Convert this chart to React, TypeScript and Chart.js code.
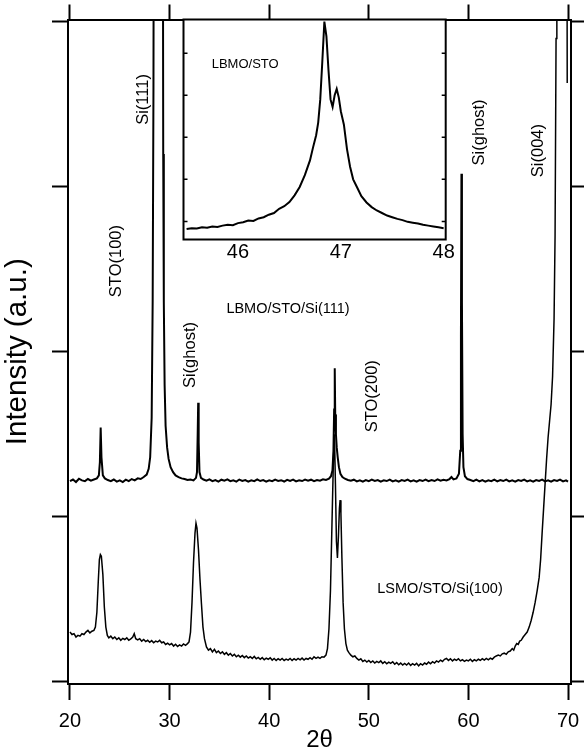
import React, { useEffect, useRef } from 'react';
import { Chart, registerables } from 'chart.js';

Chart.register(...registerables);

const FONT = '"Liberation Sans", Arial, Helvetica, sans-serif';

// ---- main axes ----
const X_MIN = 19.8;
const X_MAX = 70.3;
const X_TICKS = [20, 30, 40, 50, 60, 70];
const Y_MIN = -0.015;
const Y_MAX = 4.015;
const Y_TICKS = [0, 1, 2, 3, 4];

// ---- inset axes ----
const INSET_X_MIN = 45.47;
const INSET_X_MAX = 48.02;
const INSET_X_TICKS = [46, 47, 48];
const INSET_Y_MIN = 0.57;
const INSET_Y_MAX = 5.8;
const INSET_Y_TICKS = [1, 2, 3, 4, 5];

// LBMO/STO/Si(111)  [2theta, intensity]
const LBMO_SI111: [number, number][] = [
  [20.0,1.215],[20.3,1.225],[20.6,1.21],[20.9,1.23],[21.2,1.22],[21.5,1.215],[21.8,1.228],[22.1,1.218],[22.4,1.225],[22.7,1.232],[22.9,1.25],[23.0,1.33],[23.08,1.54],[23.16,1.36],[23.3,1.25],[23.5,1.232],[23.8,1.222],[24.1,1.215],[24.4,1.225],[24.7,1.212],[25.0,1.22],[25.3,1.21],[25.6,1.224],[25.9,1.215],[26.2,1.228],[26.5,1.22],[26.8,1.232],[27.1,1.228],[27.4,1.24],[27.7,1.255],[27.9,1.29],[28.05,1.36],[28.2,1.6],[28.3,2.3],[28.38,3.6],[28.44,6],[29.3,6],[29.36,3.2],[29.42,2.3],[29.5,1.8],[29.6,1.55],[29.75,1.42],[29.9,1.35],[30.1,1.3],[30.35,1.27],[30.6,1.25],[30.9,1.24],[31.2,1.232],[31.5,1.228],[31.8,1.222],[32.1,1.225],[32.4,1.22],[32.65,1.235],[32.75,1.27],[32.82,1.5],[32.87,1.69],[32.92,1.45],[33.0,1.27],[33.15,1.235],[33.4,1.225],[33.7,1.218],[34.0,1.226],[34.3,1.215],[34.6,1.222],[34.9,1.212],[35.2,1.224],[35.5,1.218],[35.8,1.226],[36.1,1.215],[36.4,1.22],[36.7,1.212],[37.0,1.225],[37.3,1.217],[37.6,1.222],[37.9,1.212],[38.2,1.22],[38.5,1.215],[38.8,1.226],[39.1,1.216],[39.4,1.222],[39.7,1.212],[40.0,1.22],[40.3,1.215],[40.6,1.225],[40.9,1.217],[41.2,1.221],[41.5,1.213],[41.8,1.223],[42.1,1.216],[42.4,1.224],[42.7,1.214],[43.0,1.22],[43.3,1.216],[43.6,1.225],[43.9,1.218],[44.2,1.224],[44.5,1.215],[44.8,1.222],[45.1,1.218],[45.4,1.226],[45.7,1.222],[46.0,1.23],[46.2,1.245],[46.35,1.28],[46.45,1.4],[46.52,1.65],[46.58,1.9],[46.63,1.62],[46.7,1.5],[46.78,1.42],[46.88,1.36],[47.0,1.3],[47.15,1.26],[47.35,1.24],[47.6,1.23],[47.9,1.222],[48.2,1.218],[48.5,1.224],[48.8,1.214],[49.1,1.22],[49.4,1.212],[49.7,1.222],[50.0,1.215],[50.3,1.224],[50.6,1.216],[50.9,1.222],[51.2,1.212],[51.5,1.22],[51.8,1.216],[52.1,1.225],[52.4,1.214],[52.7,1.22],[53.0,1.212],[53.3,1.222],[53.6,1.216],[53.9,1.224],[54.2,1.214],[54.5,1.22],[54.8,1.212],[55.1,1.222],[55.4,1.216],[55.7,1.225],[56.0,1.215],[56.3,1.222],[56.6,1.216],[56.9,1.226],[57.2,1.218],[57.5,1.224],[57.8,1.22],[58.1,1.228],[58.3,1.24],[58.5,1.226],[58.8,1.232],[59.05,1.26],[59.18,1.4],[59.25,2.1],[59.3,3.08],[59.35,2.3],[59.42,1.5],[59.5,1.3],[59.65,1.245],[59.9,1.228],[60.2,1.222],[60.5,1.215],[60.8,1.224],[61.1,1.214],[61.4,1.222],[61.7,1.212],[62.0,1.22],[62.3,1.215],[62.6,1.224],[62.9,1.214],[63.2,1.222],[63.5,1.216],[63.8,1.225],[64.1,1.214],[64.4,1.22],[64.7,1.212],[65.0,1.222],[65.3,1.216],[65.6,1.224],[65.9,1.214],[66.2,1.22],[66.5,1.212],[66.8,1.222],[67.1,1.216],[67.4,1.224],[67.7,1.214],[68.0,1.22],[68.3,1.212],[68.6,1.222],[68.9,1.216],[69.2,1.224],[69.5,1.214],[69.8,1.22],[70.0,1.212]
];

// LSMO/STO/Si(100)  [2theta, intensity]
const LSMO_SI100: [number, number][] = [
  [20.0,0.30],[20.2,0.285],[20.4,0.29],[20.6,0.27],[20.8,0.28],[21.0,0.275],[21.2,0.29],[21.4,0.285],[21.6,0.3],[21.8,0.31],[22.0,0.295],[22.2,0.305],[22.4,0.31],[22.55,0.33],[22.7,0.42],[22.85,0.62],[22.95,0.74],[23.05,0.77],[23.15,0.76],[23.3,0.65],[23.45,0.45],[23.6,0.33],[23.75,0.28],[23.9,0.265],[24.1,0.275],[24.3,0.26],[24.5,0.27],[24.7,0.255],[24.9,0.265],[25.1,0.25],[25.3,0.262],[25.5,0.255],[25.7,0.265],[25.9,0.25],[26.1,0.258],[26.3,0.27],[26.45,0.29],[26.6,0.26],[26.8,0.252],[27.0,0.26],[27.2,0.245],[27.4,0.255],[27.6,0.242],[27.8,0.25],[28.0,0.238],[28.2,0.248],[28.4,0.235],[28.6,0.245],[28.8,0.24],[29.0,0.25],[29.2,0.235],[29.4,0.24],[29.6,0.225],[29.8,0.232],[30.0,0.222],[30.2,0.23],[30.4,0.215],[30.6,0.226],[30.8,0.212],[31.0,0.222],[31.2,0.215],[31.4,0.228],[31.6,0.22],[31.8,0.23],[31.95,0.24],[32.1,0.3],[32.25,0.48],[32.4,0.72],[32.55,0.9],[32.65,0.96],[32.75,0.93],[32.9,0.8],[33.05,0.62],[33.2,0.47],[33.35,0.33],[33.5,0.26],[33.7,0.21],[33.9,0.19],[34.1,0.2],[34.3,0.18],[34.5,0.195],[34.7,0.175],[34.9,0.185],[35.1,0.17],[35.3,0.18],[35.5,0.165],[35.7,0.175],[35.9,0.16],[36.1,0.17],[36.3,0.155],[36.5,0.165],[36.7,0.15],[36.9,0.16],[37.1,0.148],[37.3,0.158],[37.5,0.145],[37.7,0.155],[37.9,0.142],[38.1,0.15],[38.3,0.14],[38.5,0.152],[38.7,0.138],[38.9,0.146],[39.1,0.135],[39.3,0.145],[39.5,0.132],[39.7,0.142],[39.9,0.135],[40.1,0.144],[40.3,0.13],[40.5,0.14],[40.7,0.128],[40.9,0.138],[41.1,0.13],[41.3,0.14],[41.5,0.128],[41.7,0.136],[41.9,0.13],[42.1,0.14],[42.3,0.128],[42.5,0.138],[42.7,0.13],[42.9,0.14],[43.1,0.132],[43.3,0.142],[43.5,0.13],[43.7,0.14],[43.9,0.135],[44.1,0.145],[44.3,0.135],[44.5,0.15],[44.7,0.14],[44.9,0.148],[45.1,0.14],[45.3,0.15],[45.5,0.148],[45.7,0.16],[45.85,0.2],[46.0,0.32],[46.15,0.55],[46.3,0.95],[46.45,1.35],[46.55,1.5],[46.65,1.2],[46.75,0.85],[46.85,0.75],[46.95,0.88],[47.05,1.05],[47.12,1.1],[47.2,1.02],[47.3,0.75],[47.42,0.48],[47.55,0.32],[47.7,0.23],[47.85,0.19],[48.0,0.175],[48.2,0.16],[48.4,0.15],[48.6,0.155],[48.8,0.14],[49.0,0.13],[49.2,0.138],[49.4,0.122],[49.6,0.13],[49.8,0.118],[50.0,0.128],[50.2,0.115],[50.4,0.125],[50.6,0.112],[50.8,0.122],[51.0,0.115],[51.2,0.125],[51.4,0.11],[51.6,0.12],[51.8,0.108],[52.0,0.118],[52.2,0.11],[52.4,0.12],[52.6,0.105],[52.8,0.115],[53.0,0.102],[53.2,0.112],[53.4,0.1],[53.6,0.11],[53.8,0.1],[54.0,0.112],[54.2,0.098],[54.4,0.108],[54.6,0.1],[54.8,0.11],[55.0,0.095],[55.2,0.108],[55.4,0.1],[55.6,0.112],[55.8,0.105],[56.0,0.118],[56.2,0.108],[56.4,0.12],[56.6,0.112],[56.8,0.125],[57.0,0.118],[57.2,0.13],[57.4,0.122],[57.6,0.135],[57.8,0.14],[58.0,0.128],[58.2,0.138],[58.4,0.125],[58.6,0.135],[58.8,0.128],[59.0,0.138],[59.2,0.125],[59.4,0.132],[59.6,0.122],[59.8,0.13],[60.0,0.125],[60.2,0.135],[60.4,0.122],[60.6,0.132],[60.8,0.125],[61.0,0.135],[61.2,0.128],[61.4,0.138],[61.6,0.13],[61.8,0.14],[62.0,0.132],[62.2,0.142],[62.4,0.135],[62.6,0.148],[62.8,0.155],[63.0,0.16],[63.2,0.155],[63.4,0.168],[63.6,0.172],[63.8,0.165],[64.0,0.18],[64.2,0.185],[64.4,0.2],[64.55,0.19],[64.7,0.215],[64.85,0.23],[65.0,0.225],[65.15,0.245],[65.3,0.25],[65.5,0.27],[65.7,0.285],[65.9,0.3],[66.1,0.33],[66.3,0.37],[66.5,0.42],[66.7,0.48],[66.9,0.55],[67.1,0.63],[67.25,0.74],[67.4,0.9],[67.55,1.05],[67.7,1.2],[67.85,1.35],[68.0,1.48],[68.15,1.58],[68.3,1.68],[68.45,1.85],[68.6,2.2],[68.7,2.7],[68.8,3.9],[68.88,6],[69.86,6],[69.92,3.63]
];

// Inset: LBMO/STO around STO(200)
const INSET_LBMO: [number, number][] = [
  [45.5,0.82],[45.55,0.84],[45.6,0.83],[45.65,0.86],[45.7,0.85],[45.75,0.88],[45.8,0.87],[45.85,0.9],[45.9,0.92],[45.95,0.91],[46.0,0.96],[46.05,0.98],[46.1,1.02],[46.15,1.01],[46.2,1.07],[46.25,1.1],[46.3,1.16],[46.35,1.2],[46.4,1.3],[46.45,1.36],[46.5,1.46],[46.55,1.62],[46.6,1.82],[46.65,2.1],[46.7,2.45],[46.73,2.76],[46.76,3.05],[46.78,3.35],[46.8,3.9],[46.82,4.8],[46.84,5.75],[46.86,5.4],[46.88,4.6],[46.9,3.9],[46.92,3.72],[46.94,4.0],[46.96,4.15],[46.98,3.95],[47.0,3.62],[47.03,3.3],[47.06,2.72],[47.09,2.3],[47.12,2.0],[47.16,1.8],[47.2,1.6],[47.25,1.45],[47.3,1.34],[47.35,1.26],[47.4,1.2],[47.45,1.14],[47.5,1.1],[47.55,1.06],[47.6,1.03],[47.65,0.99],[47.7,0.97],[47.75,0.95],[47.8,0.92],[47.85,0.9],[47.9,0.88],[47.95,0.86],[48.0,0.84]
];

// Text annotations (anchored in data units)
const LABELS: { text: string; x: number; y: number; rotate: boolean; size: number }[] = [
  { text: 'STO(100)', x: 24.62, y: 2.55, rotate: true, size: 16.5 },
  { text: 'Si(111)', x: 27.33, y: 3.53, rotate: true, size: 16.5 },
  { text: 'Si(ghost)', x: 32.05, y: 1.98, rotate: true, size: 16.5 },
  { text: 'LBMO/STO/Si(111)', x: 41.89, y: 2.26, rotate: false, size: 14.5 },
  { text: 'STO(200)', x: 50.32, y: 1.73, rotate: true, size: 16.5 },
  { text: 'Si(ghost)', x: 61.07, y: 3.33, rotate: true, size: 16.5 },
  { text: 'Si(004)', x: 66.99, y: 3.22, rotate: true, size: 16.5 },
  { text: 'LSMO/STO/Si(100)', x: 57.15, y: 0.56, rotate: false, size: 14.5 },
];
const INSET_LABEL = { text: 'LBMO/STO', x: 46.07, y: 4.73, size: 13 };

const toXY = (arr: [number, number][]) => arr.map(([x, y]) => ({ x, y }));
const setTicks = (vals: number[]) => (s: any) => {
  s.ticks = vals.map((v) => ({ value: v }));
};
const fixSize = (dim: 'width' | 'height', size: number) => (s: any) => {
  s[dim] = size;
  s.paddingLeft = 0;
  s.paddingRight = 0;
  s.paddingTop = 0;
  s.paddingBottom = 0;
};

const labelPlugin = {
  id: 'peakLabels',
  afterDatasetsDraw(chart: any) {
    const { ctx, scales } = chart;
    ctx.save();
    ctx.fillStyle = '#000';
    ctx.textAlign = 'center';
    ctx.textBaseline = 'middle';
    for (const l of LABELS) {
      const px = scales.x.getPixelForValue(l.x);
      const py = scales.y.getPixelForValue(l.y);
      ctx.font = `${l.size}px ${FONT}`;
      ctx.save();
      ctx.translate(px, py);
      if (l.rotate) ctx.rotate(-Math.PI / 2);
      ctx.fillText(l.text, 0, 0);
      ctx.restore();
    }
    ctx.restore();
  },
};

const insetPlugin = {
  id: 'insetFrame',
  beforeDraw(chart: any) {
    const { ctx, chartArea: a } = chart;
    ctx.save();
    ctx.fillStyle = '#fff';
    ctx.fillRect(a.left, a.top, a.right - a.left, a.bottom - a.top);
    ctx.restore();
  },
  afterDraw(chart: any) {
    const { ctx, chartArea: a, scales } = chart;
    ctx.save();
    ctx.strokeStyle = '#000';
    ctx.lineWidth = 1.5;
    ctx.beginPath();
    for (const v of INSET_Y_TICKS) {
      const py = scales.y.getPixelForValue(v);
      ctx.moveTo(a.left, py);
      ctx.lineTo(a.left + 4, py);
      ctx.moveTo(a.right, py);
      ctx.lineTo(a.right - 4, py);
    }
    ctx.stroke();
    ctx.lineWidth = 2;
    ctx.strokeRect(a.left, a.top, a.right - a.left, a.bottom - a.top);
    ctx.fillStyle = '#000';
    ctx.font = `${INSET_LABEL.size}px ${FONT}`;
    ctx.textAlign = 'center';
    ctx.textBaseline = 'middle';
    ctx.fillText(
      INSET_LABEL.text,
      scales.x.getPixelForValue(INSET_LABEL.x),
      scales.y.getPixelForValue(INSET_LABEL.y)
    );
    ctx.restore();
  },
};

export default function App() {
  const mainRef = useRef<HTMLCanvasElement>(null);
  const insetRef = useRef<HTMLCanvasElement>(null);

  useEffect(() => {
    document.body.style.margin = '0';
    const axisGrid = (len: number) => ({
      display: true,
      drawOnChartArea: false,
      drawTicks: true,
      tickLength: len,
      tickWidth: 2,
      tickColor: '#000',
      color: '#000',
    });
    const border = { display: true, color: '#000', width: 2 };

    const main = new Chart(mainRef.current as HTMLCanvasElement, {
      type: 'line',
      data: {
        datasets: [
          {
            label: 'LBMO/STO/Si(111)',
            data: toXY(LBMO_SI111),
            xAxisID: 'x',
            yAxisID: 'y',
            borderColor: '#000',
            borderWidth: 2,
            pointRadius: 0,
            tension: 0,
          },
          {
            label: 'LSMO/STO/Si(100)',
            data: toXY(LSMO_SI100),
            xAxisID: 'x',
            yAxisID: 'y',
            borderColor: '#000',
            borderWidth: 1.5,
            pointRadius: 0,
            tension: 0,
          },
        ],
      },
      options: {
        responsive: false,
        animation: false,
        devicePixelRatio: 1,
        layout: { padding: 0 },
        plugins: { legend: { display: false }, tooltip: { enabled: false } },
        scales: {
          x: {
            type: 'linear',
            position: 'bottom',
            min: X_MIN,
            max: X_MAX,
            afterBuildTicks: setTicks(X_TICKS),
            afterFit: fixSize('height', 71),
            grid: axisGrid(16),
            border,
            ticks: { color: '#000', font: { family: FONT, size: 20 }, padding: 9, maxRotation: 0 },
            title: { display: true, text: '2θ', color: '#000', font: { family: FONT, size: 24 }, padding: 0 },
          },
          xTop: {
            type: 'linear',
            position: 'top',
            min: X_MIN,
            max: X_MAX,
            afterBuildTicks: setTicks(X_TICKS),
            afterFit: fixSize('height', 19.5),
            grid: axisGrid(15),
            border,
            ticks: { display: false },
          },
          y: {
            type: 'linear',
            position: 'left',
            min: Y_MIN,
            max: Y_MAX,
            afterBuildTicks: setTicks(Y_TICKS),
            afterFit: fixSize('width', 68),
            grid: axisGrid(16),
            border,
            ticks: { display: false },
            title: { display: true, text: 'Intensity (a.u.)', color: '#000', font: { family: FONT, size: 29.5 }, padding: 0 },
          },
          yRight: {
            type: 'linear',
            position: 'right',
            min: Y_MIN,
            max: Y_MAX,
            afterBuildTicks: setTicks(Y_TICKS),
            afterFit: fixSize('width', 13),
            grid: axisGrid(13),
            border,
            ticks: { display: false },
          },
        },
      },
      plugins: [labelPlugin],
    });

    const inset = new Chart(insetRef.current as HTMLCanvasElement, {
      type: 'line',
      data: {
        datasets: [
          {
            label: 'LBMO/STO',
            data: toXY(INSET_LBMO),
            borderColor: '#000',
            borderWidth: 2,
            pointRadius: 0,
            tension: 0,
          },
        ],
      },
      options: {
        responsive: false,
        animation: false,
        devicePixelRatio: 1,
        layout: { padding: { top: 19.5, right: 14.3, left: 0, bottom: 0 } },
        plugins: { legend: { display: false }, tooltip: { enabled: false } },
        scales: {
          x: {
            type: 'linear',
            position: 'bottom',
            min: INSET_X_MIN,
            max: INSET_X_MAX,
            afterBuildTicks: setTicks(INSET_X_TICKS),
            afterFit: fixSize('height', 26.5),
            grid: { display: false, drawTicks: false },
            border: { display: false },
            ticks: { color: '#000', font: { family: FONT, size: 20 }, padding: 1, maxRotation: 0 },
          },
          y: {
            type: 'linear',
            position: 'left',
            min: INSET_Y_MIN,
            max: INSET_Y_MAX,
            afterBuildTicks: setTicks(INSET_Y_TICKS),
            afterFit: fixSize('width', 13.5),
            grid: { display: false, drawTicks: false },
            border: { display: false },
            ticks: { display: false },
          },
        },
      },
      plugins: [insetPlugin],
    });

    return () => {
      main.destroy();
      inset.destroy();
    };
  }, []);

  return (
    <div style={{ position: 'relative', width: 584, height: 755 }}>
      <canvas
        ref={mainRef}
        width={584}
        height={755}
        style={{ position: 'absolute', left: 0, top: 0, width: 584, height: 755, display: 'block' }}
      />
      <canvas
        ref={insetRef}
        width={290}
        height={266}
        style={{ position: 'absolute', left: 170, top: 0, width: 290, height: 266, display: 'block' }}
      />
    </div>
  );
}
